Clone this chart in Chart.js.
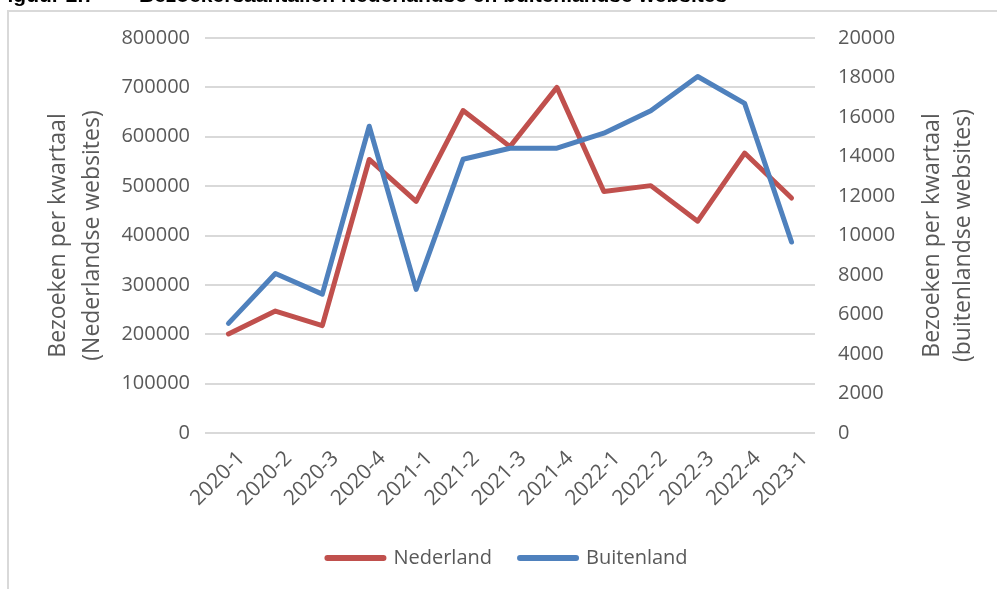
<!DOCTYPE html>
<html>
<head>
<meta charset="utf-8">
<script src="https://cdn.jsdelivr.net/npm/chart.js@4.4.1/dist/chart.umd.min.js"></script>
<style>
  html, body { margin: 0; padding: 0; background: #fff; overflow: hidden; }
  #wrap { position: relative; width: 997px; height: 589px; }
  #chart { position: absolute; left: 0; top: 0; }
  .fig { position: absolute; top: -15px; font: bold 21px "Liberation Sans", Arial, sans-serif; line-height: 20px; color: #000; white-space: nowrap; }
  .frameTop { position: absolute; left: 7px; top: 10px; width: 990px; height: 2px; background: #d9d9d9; }
  .frameLeft { position: absolute; left: 7px; top: 10px; width: 2px; height: 579px; background: #d9d9d9; }
</style>
</head>
<body>
<div id="wrap">
  <canvas id="chart" width="997" height="589"></canvas>
  <div class="fig" style="right: 902px;">Figuur 2.7</div>
  <div class="fig" style="left: 139px;">Bezoekersaantallen Nederlandse en buitenlandse websites</div>
  <div class="frameTop"></div>
  <div class="frameLeft"></div>
</div>
<script>
// ================= DATA =================
const quarters = ['2020-1', '2020-2', '2020-3', '2020-4', '2021-1', '2021-2', '2021-3',
                  '2021-4', '2022-1', '2022-2', '2022-3', '2022-4', '2023-1'];

const nederland = [200500, 247000, 217500, 554000, 469000, 653000, 580000,
                   700000, 489000, 501000, 429000, 567000, 476000];

const buitenland = [5550, 8080, 7030, 15530, 7270, 13860, 14420,
                    14420, 15180, 16320, 18050, 16690, 9670];

const leftTitle = ['Bezoeken per kwartaal', '(Nederlandse websites)'];
const rightTitle = ['Bezoeken per kwartaal', '(buitenlandse websites)'];

const gray = '#595959';
const fontFamily = '"Open Sans", sans-serif';

// axis titles, both read bottom to top
const axisTitles = {
    id: 'axisTitles',
    afterDraw(chart) {
        const ctx = chart.ctx;
        const area = chart.chartArea;
        const cy = (area.top + area.bottom) / 2;
        ctx.save();
        ctx.fillStyle = gray;
        ctx.font = '23px ' + fontFamily;
        ctx.textAlign = 'center';
        ctx.textBaseline = 'middle';

        ctx.save();
        ctx.translate(58, cy);
        ctx.rotate(-Math.PI / 2);
        ctx.fillText(leftTitle[0], 0, 0);
        ctx.fillText(leftTitle[1], 0, 34);
        ctx.restore();

        ctx.save();
        ctx.translate(932, cy);
        ctx.rotate(-Math.PI / 2);
        ctx.fillText(rightTitle[0], 0, 0);
        ctx.fillText(rightTitle[1], 0, 31);
        ctx.restore();

        ctx.restore();
    }
};

const ctx = document.getElementById('chart').getContext('2d');

new Chart(ctx, {
    type: 'line',
    data: {
        labels: quarters,
        datasets: [
            {
                label: 'Nederland',
                data: nederland,
                yAxisID: 'y',
                borderColor: '#C0504D',
                backgroundColor: '#C0504D',
                borderWidth: 5,
                borderCapStyle: 'round',
                borderJoinStyle: 'round',
                pointRadius: 0,
                tension: 0,
                order: 1
            },
            {
                label: 'Buitenland',
                data: buitenland,
                yAxisID: 'y1',
                borderColor: '#4F81BD',
                backgroundColor: '#4F81BD',
                borderWidth: 5,
                borderCapStyle: 'round',
                borderJoinStyle: 'round',
                pointRadius: 0,
                tension: 0,
                order: 0
            }
        ]
    },
    options: {
        responsive: false,
        animation: false,
        layout: {
            padding: { left: 110, right: 92, top: 38, bottom: 11 }
        },
        plugins: {
            tooltip: { enabled: false },
            legend: {
                position: 'bottom',
                labels: {
                    usePointStyle: true,
                    pointStyle: 'line',
                    pointStyleWidth: 56,
                    boxHeight: 20,
                    padding: 28,
                    color: gray,
                    font: { family: fontFamily, size: 20 },
                    sort: (a, b) => a.datasetIndex - b.datasetIndex,
                    generateLabels: chart => {
                        const items = Chart.defaults.plugins.legend.labels.generateLabels(chart);
                        items.forEach(it => { it.lineWidth = 6; it.lineCap = 'round'; });
                        return items;
                    }
                }
            }
        },
        scales: {
            x: {
                offset: true,
                grid: { display: false },
                border: { display: false },
                afterFit: scale => { scale.height = 87; },
                ticks: {
                    color: gray,
                    font: { family: fontFamily, size: 21 },
                    minRotation: 45,
                    maxRotation: 45,
                    labelOffset: 13,
                    padding: 5,
                    autoSkip: false
                }
            },
            y: {
                position: 'left',
                min: 0,
                max: 800000,
                afterFit: scale => { scale.width = 95; },
                grid: { color: '#d9d9d9', lineWidth: 2, drawTicks: false },
                border: { display: false },
                ticks: {
                    stepSize: 100000,
                    color: gray,
                    padding: 15,
                    font: { family: fontFamily, size: 20 },
                    callback: v => String(v)
                }
            },
            y1: {
                position: 'right',
                min: 0,
                max: 20000,
                afterFit: scale => { scale.width = 90; },
                grid: { display: false, drawTicks: false },
                border: { display: false },
                ticks: {
                    stepSize: 2000,
                    color: gray,
                    padding: 23,
                    font: { family: fontFamily, size: 20 },
                    callback: v => String(v)
                }
            }
        }
    },
    plugins: [axisTitles]
});
</script>
</body>
</html>
